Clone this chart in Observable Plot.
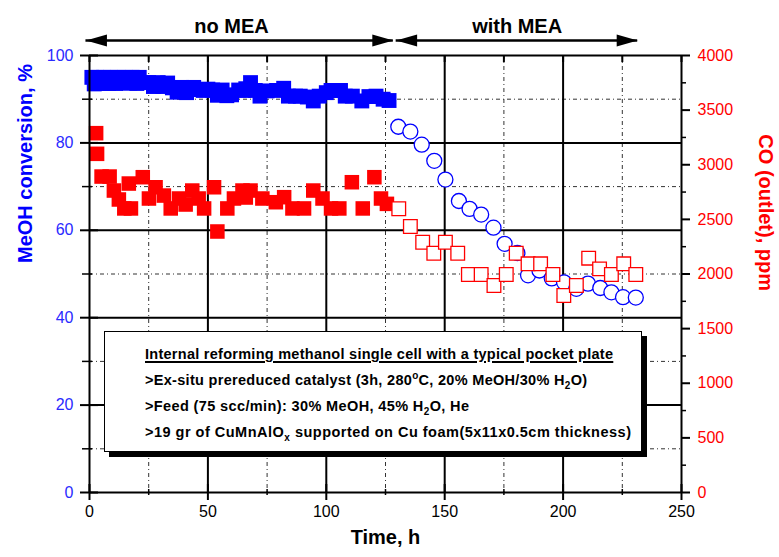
<!DOCTYPE html>
<html><head><meta charset="utf-8">
<script src="https://cdn.jsdelivr.net/npm/d3@7"></script>
<script src="https://cdn.jsdelivr.net/npm/@observablehq/plot@0.6"></script>
<style>
body{margin:0;background:#fff;}
#wrap{position:relative;width:779px;height:557px;font-family:"Liberation Sans",Arial,sans-serif;}
#note{position:absolute;left:104px;top:331px;width:538px;height:121px;border:1.5px solid #000;box-shadow:5px 5px 0 #000;background:#fff;box-sizing:border-box;padding:9px 0 0 40px;font-weight:bold;font-size:14.5px;line-height:26px;white-space:nowrap;color:#000;}
#note div span{display:inline-block;}
#note sub{font-size:10px;vertical-align:-4px;line-height:0;}
#note sup{font-size:10px;vertical-align:6px;line-height:0;}
#note span.t{text-decoration:underline;text-decoration-thickness:1.5px;text-underline-offset:2px;}
</style>
</head><body>
<div id="wrap"></div>
<script>
// ---- data ----
const convFilledT = [1,2,3,5,6,8,9,11,12,14,15,17,18,20,21,23,25,27,29,31,33,35,37,39,41,44,46,48,50,52,54,56,58,60,63,65,66,68,70,72,75,79,82,84,87,89,92,94.5,97,100,102,106,108,111,115,118,121,124,126.5];
const convFilledV = [95.0,93.5,95.0,93.6,95.0,93.6,95.0,93.6,95.0,93.7,95.0,93.7,95.0,93.6,95.0,93.8,93.8,92.9,93.8,92.9,93.7,92.6,91.6,92.7,91.5,92.7,92.2,92.0,92.3,92.1,90.9,92.1,90.8,91.0,92.1,92.0,92.4,93.8,92.0,90.7,91.9,92.0,92.5,90.7,90.7,90.7,90.5,89.6,90.7,91.5,92.0,92.0,90.7,90.7,89.6,90.6,90.7,90.0,89.7];
const coFilledT = [2.8,3.2,5.1,8.5,10.3,12.4,14.7,16.6,17.5,22.5,25.1,27.9,31.4,34.3,37.8,40.6,43.4,46.1,48.4,52.6,54.0,58.2,61.0,64.6,66.0,68.0,73.0,78.7,82.2,85.7,90.6,94.5,98.4,102.0,105.5,110.8,115.4,120.3,123.1,125.6];
const coFilledV = [3289,3100,2892,2892,2764,2682,2600,2828,2600,2886,2691,2794,2718,2600,2691,2636,2764,2691,2600,2794,2389,2600,2691,2764,2700,2764,2691,2657,2703,2600,2600,2764,2691,2600,2600,2840,2600,2886,2691,2642];
const convOpenT = [130.4,135.5,140.3,145.6,150.3,156.0,160.5,165.4,170.6,175.3,180.7,185.2,190.0,195.2,200.4,205.6,210.5,215.7,220.4,225.3,230.7];
const convOpenV = [83.7,82.6,79.6,75.9,71.6,66.7,64.9,63.6,60.6,56.9,54.8,49.7,50.8,49.0,48.1,46.6,47.8,46.8,45.8,44.7,44.6];
const coOpenT = [130.6,135.5,140.7,145.4,150.3,155.5,160.0,165.4,170.8,176.0,180.2,185.2,190.5,195.7,200.3,205.6,210.8,215.4,220.4,225.6,230.7];
const coOpenV = [2597,2435,2291,2190,2291,2190,1995,1995,1895,1995,2190,2093,2093,1995,1803,1895,2145,2047,1995,2093,1995];

const xMajor = [0,50,100,150,200,250];
const xMinor = [25,75,125,175,225];
const yMajor = [0,20,40,60,80,100];
const yMinor = [10,30,50,70,90];
const ppmMajor = [0,500,1000,1500,2000,2500,3000,3500,4000];
const ppmMinor = [250,750,1250,1750,2250,2750,3250,3750];
const ppmPerUnit = 40; // 4000 ppm <-> 100 %

const phaseLabels = ["no MEA","with MEA"];
const phaseCenters = [60, 180.6];
const phaseStart = [-1.5, 129.5];
const phaseEnd = [128.3, 231.5];

const noteLines = [
  'Internal reforming methanol single cell with a typical pocket plate',
  '&gt;Ex-situ prereduced catalyst (3h, 280<sup>o</sup>C, 20% MeOH/30% H<sub>2</sub>O)',
  '&gt;Feed (75 scc/min): 30% MeOH, 45% H<sub>2</sub>O, He',
  '&gt;19 gr of CuMnAlO<sub>x</sub> supported on Cu foam(5x11x0.5cm thickness)'
];
const noteWidths = [468, 442, 324, 486];

const BLUE = "#0000ff", RED = "#ff0000";

const convFilled = convFilledT.map((t,i)=>({t, v: convFilledV[i]}));
const coFilled = coFilledT.map((t,i)=>({t, v: coFilledV[i]/ppmPerUnit}));
const convOpen = convOpenT.map((t,i)=>({t, v: convOpenV[i]}));
const coOpen = coOpenT.map((t,i)=>({t, v: coOpenV[i]/ppmPerUnit}));
const phases = phaseLabels.map((label,i)=>({label, c: phaseCenters[i], a: phaseStart[i], b: phaseEnd[i]}));
const heads = phases.flatMap(p=>[{x:p.a, rot:180},{x:p.b, rot:0}]);

const headSymbol = {draw(ctx){ ctx.moveTo(0,0); ctx.lineTo(-21,-6); ctx.lineTo(-21,6); ctx.closePath(); }};
const zero = () => 0;

const chart = Plot.plot({
  width: 779, height: 557,
  marginLeft: 89, marginRight: 98, marginTop: 55, marginBottom: 65,
  x: {domain: [0,250]},
  y: {domain: [0,100]},
  style: {fontFamily: '"Liberation Sans", Arial, sans-serif', background: "white", overflow: "visible"},
  marks: [
    Plot.ruleX(xMinor, {stroke: "#333", strokeWidth: 1, strokeDasharray: "4,3,1,3"}),
    Plot.ruleY(yMinor, {stroke: "#333", strokeWidth: 1, strokeDasharray: "4,3,1,3"}),
    Plot.ruleX(xMajor.filter(d=>d>0&&d<250), {stroke: "#000", strokeWidth: 2}),
    Plot.ruleY(yMajor.filter(d=>d>0&&d<100), {stroke: "#000", strokeWidth: 2}),
    Plot.dot(coFilled, {x: "t", y: "v", symbol: "square", r: 8.2, fill: RED}),
    Plot.dot(convFilled, {x: "t", y: "v", symbol: "square", r: 8.4, fill: BLUE}),
    Plot.dot(convOpen, {x: "t", y: "v", symbol: "circle", r: 7.5, fill: "white", stroke: BLUE, strokeWidth: 1.3}),
    Plot.dot(coOpen, {x: "t", y: "v", symbol: "square", r: 7.7, fill: "white", stroke: RED, strokeWidth: 1.3}),
    Plot.ruleY([0,100], {stroke: "#000", strokeWidth: 2}),
    Plot.ruleX([0,250], {stroke: "#000", strokeWidth: 2}),
    Plot.ruleX(xMajor, {x: d=>d, y1: zero, y2: zero, insetTop: -8, insetBottom: -8, stroke: "#000", strokeWidth: 2}),
    Plot.ruleX(xMinor, {x: d=>d, y1: zero, y2: zero, insetTop: -3, insetBottom: -3, stroke: "#000", strokeWidth: 1.5}),
    Plot.ruleX(xMajor.concat(xMinor), {x: d=>d, y1: ()=>100, y2: ()=>100, insetTop: 0, insetBottom: -7, stroke: "#000", strokeWidth: 2}),
    Plot.ruleY(yMajor, {y: d=>d, x1: zero, x2: zero, insetLeft: -9, insetRight: -9, stroke: "#000", strokeWidth: 2}),
    Plot.ruleY(yMinor, {y: d=>d, x1: zero, x2: zero, insetLeft: -7, insetRight: -3, stroke: "#000", strokeWidth: 1.5}),
    Plot.ruleY(ppmMajor.map(d=>d/ppmPerUnit), {y: d=>d, x1: ()=>250, x2: ()=>250, insetLeft: 0, insetRight: -9, stroke: "#000", strokeWidth: 2}),
    Plot.ruleY(ppmMinor.map(d=>d/ppmPerUnit), {y: d=>d, x1: ()=>250, x2: ()=>250, insetLeft: 0, insetRight: -5, stroke: "#000", strokeWidth: 1.5}),
    Plot.axisX(xMajor, {anchor: "bottom", tickSize: 0, tickPadding: 13, fontSize: 16, label: null, fill: "#000"}),
    Plot.axisY(yMajor, {anchor: "left", tickSize: 0, tickPadding: 16, fontSize: 16, label: null, fill: "#2a2aff"}),
    Plot.axisY(ppmMajor.map(d=>d/ppmPerUnit), {anchor: "right", tickSize: 0, tickPadding: 16, fontSize: 16, label: null, fill: RED, tickFormat: d=>String(Math.round(d*ppmPerUnit))}),
    Plot.text(["MeOH conversion, %"], {frameAnchor: "left", dx: -64, dy: -11, rotate: -90, fontSize: 20, fontWeight: "bold", fill: BLUE}),
    Plot.text(["CO (outlet), ppm"], {frameAnchor: "right", dx: 84, dy: 17, rotate: 90, fontSize: 20, fontWeight: "bold", fill: RED}),
    Plot.text(["Time, h"], {frameAnchor: "bottom", dy: 51, fontSize: 20, fontWeight: "bold", fill: "#000"}),
    Plot.text(phases, {x: "c", frameAnchor: "top", dy: -37, text: "label", fontSize: 20, fontWeight: "bold", fill: "#000"}),
    Plot.ruleY(phases, {x1: "a", x2: "b", y: ()=>100, dy: -15, stroke: "#000", strokeWidth: 2.5}),
    Plot.dot(heads, {x: "x", y: ()=>100, dy: -15, rotate: "rot", symbol: headSymbol, r: 5, fill: "#000", stroke: "none"})
  ]
});

const wrap = document.getElementById("wrap");
wrap.appendChild(chart);
const note = document.createElement("div");
note.id = "note";
note.innerHTML = noteLines.map((s,i)=>`<div><span${i===0?' class="t"':''}>${s}</span></div>`).join("");
wrap.appendChild(note);
// stretch each line to its width in the reference
note.querySelectorAll("div > span").forEach((sp,i)=>{
  const w = sp.getBoundingClientRect().width;
  const n = sp.textContent.length - 1;
  if (n > 0) sp.style.letterSpacing = ((noteWidths[i] - w) / n).toFixed(3) + "px";
});
</script>
</body></html>
